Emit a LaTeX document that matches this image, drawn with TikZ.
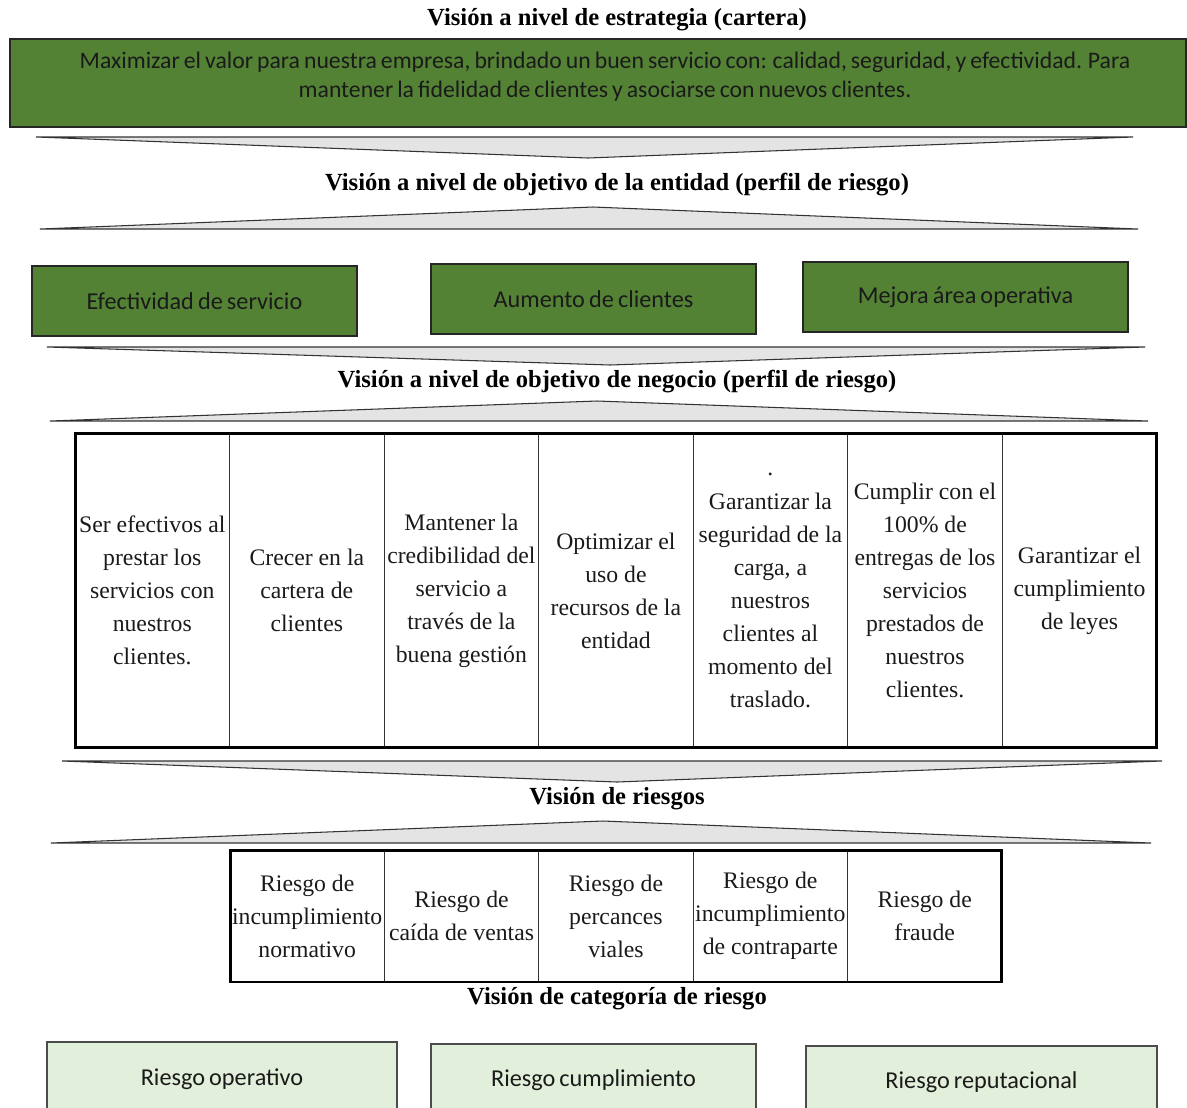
\documentclass[tikz,border=0pt]{standalone}
\usepackage{fontspec}
\setmainfont{Liberation Serif}
\newfontfamily\calibri[WordSpace={0.75,0.5,0.5}]{Carlito}
\usepackage{xcolor}
\usetikzlibrary{positioning}
\definecolor{verdehoja}{HTML}{548235}
\definecolor{verdeclaro}{HTML}{E2EFDA}
\definecolor{grisflecha}{HTML}{E4E4E4}
\definecolor{tinta}{HTML}{1A1A1A}

\begin{document}
\begin{tikzpicture}[x=0.02cm,y=-0.02cm]
    \tikzset{%
        titulo/.style={font=\bfseries\fontsize{14}{16}\selectfont,inner sep=0pt},
        cajaverde/.style={draw=black!85,line width=0.9pt,fill=verdehoja,
            text=tinta,font=\calibri\fontsize{13.8}{16.4}\selectfont,
            minimum width=6.5cm,minimum height=1.4cm,inner sep=0pt},
        cajaclara/.style={draw=black!70,line width=0.7pt,fill=verdeclaro,
            text=tinta,font=\calibri\fontsize{13.8}{16.4}\selectfont,inner sep=0pt},
        celda/.style={draw=black!80,line width=0.5pt,align=center,text=tinta,
            font=\fontsize{13.5}{18.8}\selectfont,inner sep=1pt,outer sep=0pt,
            minimum width=3.0914cm,minimum height=6.3cm},
        celdariesgo/.style={celda,minimum width=3.088cm,minimum height=2.64cm},
        marco/.style={line width=1.7pt},
        chevron/.style={draw=black!80,line width=0.6pt,fill=grisflecha,line join=miter}
    }
    % flat edge y, left x, right x, tip x, tip y
    \newcommand\Chevron[5]{%
        \filldraw[chevron] (#2,#1) -- (#3,#1) -- (#4,#5) -- cycle;}

    \useasboundingbox (0,0) rectangle (1187,1107);
    \clip (0,0) rectangle (1187,1107);

    % estrategia
    \node[titulo] (tEstrategia) at (617,20) {Visión a nivel de estrategia (cartera)};
    \node[cajaverde,minimum width=23.52cm,minimum height=1.76cm] (cartera) at (598,83) {};
    \node[align=center,text=tinta,inner sep=0pt,
        font=\calibri\fontsize{13.5}{16.4}\selectfont] (carteraTxt) at (605,77)
        {Maximizar el valor para nuestra empresa, brindado un buen servicio con: calidad, seguridad, y efectividad. Para\\
         mantener la fidelidad de clientes y asociarse con nuevos clientes.};

    \Chevron{137}{36}{1133}{588}{158}
    \node[titulo] (tEntidad) at (617,185) {Visión a nivel de objetivo de la entidad (perfil de riesgo)};
    \Chevron{229}{40}{1138}{593}{207}

    % objetivos de la entidad
    \node[cajaverde] (efectividad) at (194.5,301) {Efectividad de servicio};
    \node[cajaverde] (aumento) at (593.5,299) {Aumento de clientes};
    \node[cajaverde] (mejora) at (965.5,297) {Mejora área operativa};

    \Chevron{347}{47}{1145}{610}{365}
    \node[titulo] (tNegocio) at (617,382) {Visión a nivel de objetivo de negocio (perfil de riesgo)};
    \Chevron{421}{50}{1148}{597}{401}

    % objetivos de negocio
    \node[celda] (obj1) at (152.3,590.5) {Ser efectivos al\\prestar los\\servicios con\\nuestros\\clientes.};
    \node[celda,right=0pt of obj1] (obj2) {Crecer en la\\cartera de\\clientes};
    \node[celda,right=0pt of obj2] (obj3) {Mantener la\\credibilidad del\\servicio a\\través de la\\buena gestión};
    \node[celda,right=0pt of obj3] (obj4) {Optimizar el\\uso de\\recursos de la\\entidad};
    \node[celda,right=0pt of obj4] (obj5) {.\\Garantizar la\\seguridad de la\\carga, a\\nuestros\\clientes al\\momento del\\traslado.};
    \node[celda,right=0pt of obj5] (obj6) {Cumplir con el\\100\% de\\entregas de los\\servicios\\prestados de\\nuestros\\clientes.};
    \node[celda,right=0pt of obj6] (obj7) {Garantizar el\\cumplimiento\\de leyes};
    \draw[marco] (obj1.north west) rectangle (obj7.south east);

    \Chevron{761}{62}{1162}{617}{782}
    \node[titulo] (tRiesgos) at (617,799) {Visión de riesgos};
    \Chevron{843}{51}{1151}{603}{821}

    % riesgos
    \node[celdariesgo] (r1) at (307.2,916) {Riesgo de\\incumplimiento\\normativo};
    \node[celdariesgo,right=0pt of r1] (r2) {Riesgo de\\caída de ventas};
    \node[celdariesgo,right=0pt of r2] (r3) {Riesgo de\\percances\\viales};
    \node[celdariesgo,right=0pt of r3] (r4) {Riesgo de\\incumplimiento\\de contraparte};
    \node[celdariesgo,right=0pt of r4] (r5) {Riesgo de\\fraude};
    \draw[marco] (r1.north west) rectangle (r5.south east);

    % categorias
    \node[titulo] (tCategoria) at (617,999) {Visión de categoría de riesgo};
    \node[cajaclara,minimum width=7cm,minimum height=1.48cm] (operativo) at (222,1079) {Riesgo operativo};
    \node[cajaclara,minimum width=6.5cm,minimum height=1.44cm] (cumplimiento) at (593.5,1080) {Riesgo cumplimiento};
    \node[cajaclara,minimum width=7.02cm,minimum height=1.44cm] (reputacional) at (981.5,1082) {Riesgo reputacional};
\end{tikzpicture}
\end{document}
